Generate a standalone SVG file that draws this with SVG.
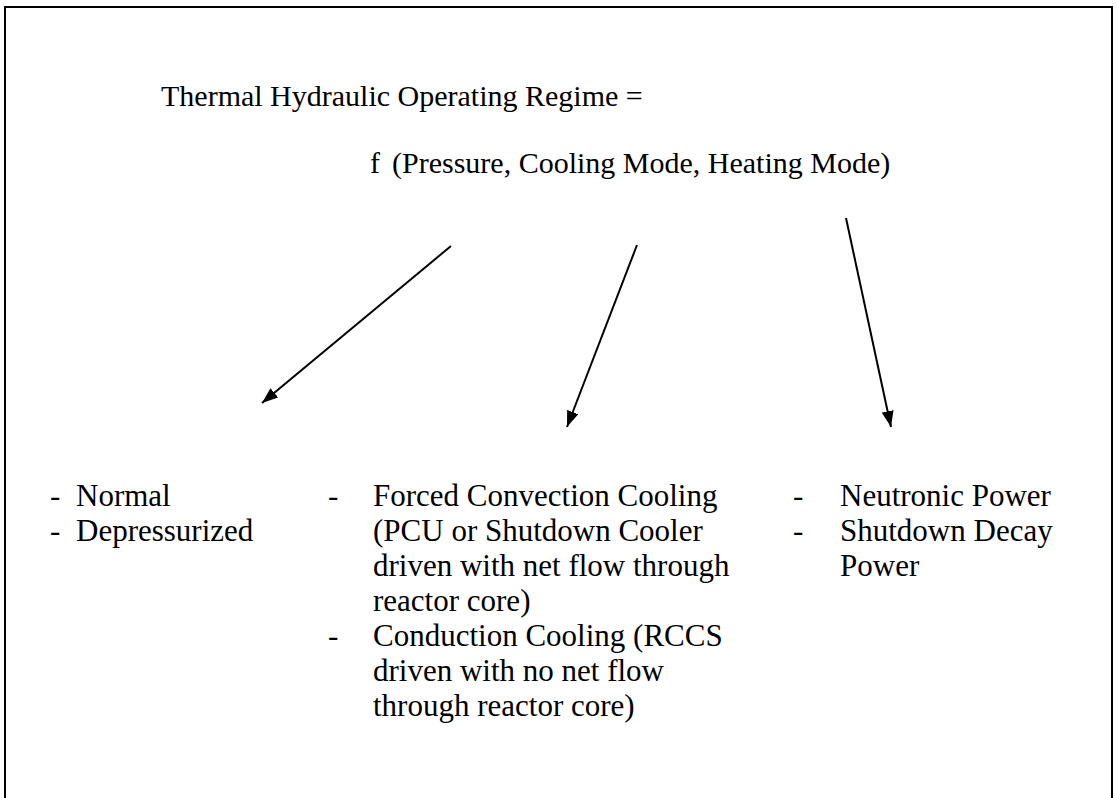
<svg xmlns="http://www.w3.org/2000/svg" width="1117" height="798" viewBox="0 0 1117 798">
<defs>
<style>
.t{font-family:"Liberation Serif","Times New Roman",Times,serif;font-size:31px;fill:#000}
.hd{font-size:30px}
.ln{stroke:#000;stroke-width:2;fill:none}
</style>
<marker id="arr" viewBox="0 0 16 12" refX="16" refY="6" markerWidth="16" markerHeight="12" markerUnits="userSpaceOnUse" orient="auto">
<path d="M0,0 L16,6 L0,12 z" fill="#000"/>
</marker>
</defs>
<rect width="1117" height="798" fill="#fff"/>
<rect x="5" y="7" width="1107" height="800" fill="none" stroke="#000" stroke-width="2"/>
<g class="t">
<g id="title" class="hd">
<text x="161" y="106">Thermal Hydraulic Operating Regime =</text>
<text x="370" y="173">f</text>
<text x="392" y="173">(Pressure, Cooling Mode, Heating Mode)</text>
</g>
<g id="pressure">
<text x="50" y="506">-</text><text x="76" y="506">Normal</text>
<text x="50" y="541">-</text><text x="76" y="541">Depressurized</text>
</g>
<g id="cooling">
<text x="328" y="506">-</text><text x="373" y="506">Forced Convection Cooling</text>
<text x="373" y="541">(PCU or Shutdown Cooler</text>
<text x="373" y="576">driven with net flow through</text>
<text x="373" y="611">reactor core)</text>
<text x="328" y="646">-</text><text x="373" y="646">Conduction Cooling (RCCS</text>
<text x="373" y="681">driven with no net flow</text>
<text x="373" y="716">through reactor core)</text>
</g>
<g id="heating">
<text x="793" y="506">-</text><text x="840" y="506">Neutronic Power</text>
<text x="793" y="541">-</text><text x="840" y="541">Shutdown Decay</text>
<text x="840" y="576">Power</text>
</g>
</g>
<g id="connectors">
<line class="ln" x1="451" y1="246" x2="262" y2="403" marker-end="url(#arr)"/>
<line class="ln" x1="637" y1="245" x2="567" y2="427" marker-end="url(#arr)"/>
<line class="ln" x1="846" y1="218" x2="891" y2="427" marker-end="url(#arr)"/>
</g>
</svg>
